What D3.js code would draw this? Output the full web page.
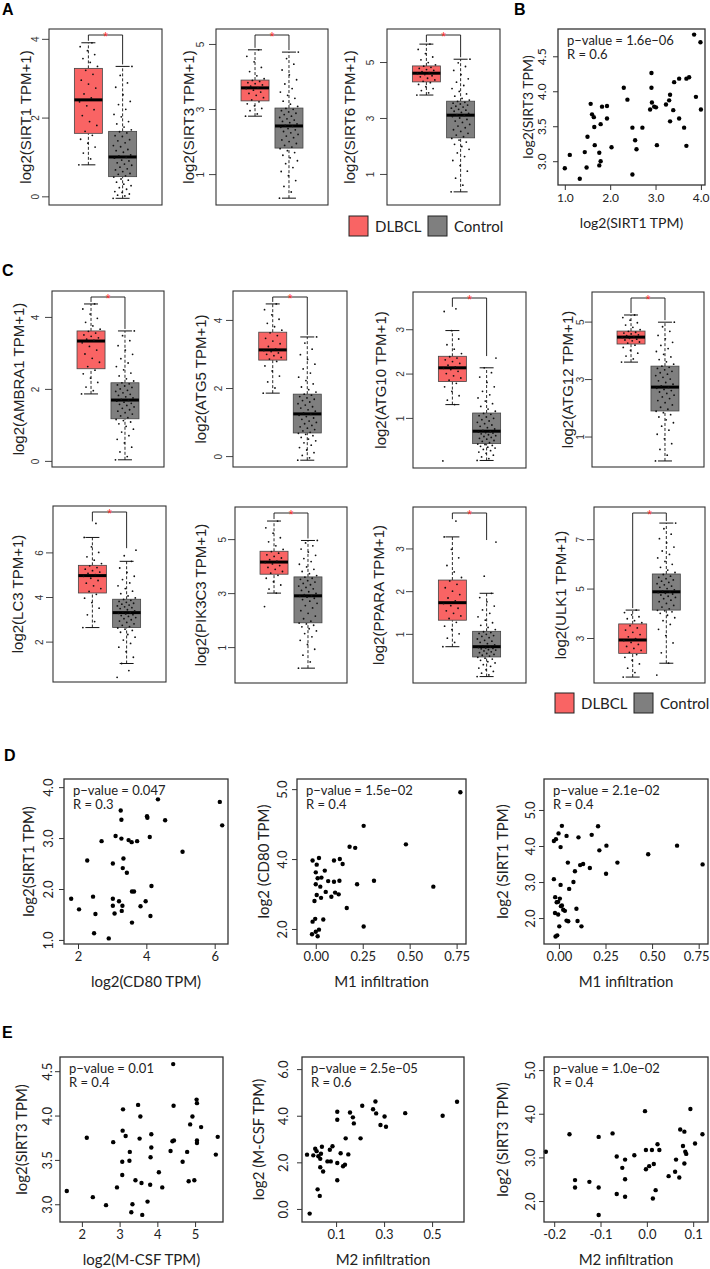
<!DOCTYPE html>
<html>
<head>
<meta charset="utf-8">
<script src="https://cdn.jsdelivr.net/npm/d3@7"></script>
<style>
  body { margin: 0; background: #fff; }
  text { fill: #222; }
</style>
</head>
<body>
<svg id="fig" width="710" height="1269"></svg>
<script>
// ---------- box plots: DLBCL (tumour) vs Control, log2(TPM+1) ----------
const boxGenes = ["SIRT1", "SIRT3", "SIRT6", "AMBRA1", "ATG5", "ATG10", "ATG12", "LC3", "PIK3C3", "PPARA", "ULK1"];

// [whisker low, Q1, median, Q3, whisker high]
const tumorStats = [
  [0.80, 1.60, 2.45, 3.25, 3.90],
  [2.78, 3.25, 3.65, 3.89, 4.82],
  [3.82, 4.29, 4.60, 4.86, 5.64],
  [1.86, 2.56, 3.33, 3.61, 4.36],
  [1.85, 2.82, 3.12, 3.64, 4.47],
  [1.30, 1.82, 2.13, 2.39, 2.97],
  [3.59, 4.22, 4.46, 4.67, 5.23],
  [2.63, 4.18, 4.96, 5.42, 6.67],
  [3.00, 3.70, 4.15, 4.55, 5.67],
  [0.70, 1.32, 1.73, 2.26, 3.27],
  [1.42, 2.38, 2.92, 3.57, 4.13]
];
const normalStats = [
  [-0.05, 0.50, 1.00, 1.65, 3.30],
  [0.26, 1.80, 2.48, 3.03, 4.75],
  [0.36, 2.29, 3.10, 3.60, 5.10],
  [0.03, 1.17, 1.69, 2.17, 3.61],
  [-0.12, 0.68, 1.24, 1.82, 3.50],
  [0.04, 0.42, 0.70, 1.11, 2.13],
  [0.15, 1.89, 2.72, 3.45, 4.98],
  [1.02, 2.63, 3.30, 3.90, 5.60],
  [0.22, 1.90, 2.90, 3.60, 4.95],
  [0.00, 0.46, 0.70, 1.06, 1.95],
  [1.98, 4.13, 4.87, 5.59, 7.65]
];
const boxTicks = [[0, 2, 4], [1, 3, 5], [1, 3, 5], [0, 2, 4], [0, 2, 4], [1, 2, 3], [1, 3, 5], [2, 4, 6], [1, 3, 5], [1, 2, 3], [3, 5, 7]];
const boxYRange = [[-0.22, 4.25], [0.05, 5.46], [-0.11, 6.18], [-0.17, 4.72], [-0.32, 4.85], [-0.13, 3.84], [-0.06, 6.03], [0.19, 8.08], [-0.33, 6.19], [-0.15, 3.97], [1.18, 8.3]];

// sample values (estimated from the dots)
const tumorPts = [
  [0.8,0.95,1.1,1.25,1.35,1.45,1.55,1.65,1.8,1.9,2.05,2.2,2.3,2.4,2.5,2.6,2.75,2.85,2.95,3.1,3.2,3.3,3.4,3.5,3.6,3.7,3.8,3.9],
  [2.78,2.85,2.95,3.02,3.1,3.16,3.22,3.28,3.35,3.42,3.48,3.52,3.58,3.63,3.66,3.7,3.74,3.78,3.81,3.85,3.88,3.93,4.02,4.15,4.28,4.45,4.62,4.82],
  [3.82,3.9,3.98,4.05,4.12,4.2,4.26,4.31,4.36,4.42,4.47,4.51,4.55,4.59,4.62,4.66,4.7,4.73,4.77,4.81,4.85,4.9,4.98,5.08,5.18,5.3,5.45,5.64],
  [1.86,1.95,2.05,2.18,2.3,2.42,2.52,2.62,2.74,2.85,2.97,3.08,3.18,3.28,3.35,3.38,3.42,3.46,3.5,3.55,3.6,3.66,3.75,3.85,3.96,4.08,4.22,4.36],
  [1.85,2.0,2.18,2.35,2.5,2.65,2.78,2.85,2.9,2.95,2.99,3.03,3.07,3.1,3.15,3.22,3.3,3.38,3.46,3.54,3.62,3.7,3.8,3.9,4.02,4.15,4.3,4.47],
  [0.03,1.3,1.4,1.5,1.6,1.7,1.78,1.85,1.9,1.95,2.0,2.05,2.09,2.12,2.15,2.19,2.23,2.27,2.31,2.35,2.38,2.45,2.55,2.65,2.78,2.97,3.4,3.46],
  [3.59,3.7,3.8,3.9,4.0,4.1,4.18,4.25,4.29,4.33,4.36,4.39,4.42,4.45,4.48,4.51,4.54,4.57,4.6,4.63,4.66,4.72,4.8,4.88,4.96,5.05,5.14,5.23],
  [2.63,2.9,3.2,3.5,3.75,3.95,4.12,4.25,4.38,4.5,4.62,4.74,4.84,4.93,5.0,5.06,5.12,5.18,5.25,5.32,5.4,5.5,5.65,5.8,6.0,6.25,6.67,7.3],
  [2.5,3.0,3.15,3.3,3.42,3.55,3.66,3.74,3.8,3.88,3.95,4.02,4.08,4.13,4.18,4.24,4.3,4.36,4.42,4.48,4.54,4.62,4.75,4.9,5.05,5.22,5.42,5.67],
  [0.7,0.8,0.9,1.0,1.1,1.18,1.27,1.36,1.42,1.48,1.54,1.6,1.66,1.71,1.77,1.84,1.92,2.0,2.08,2.16,2.24,2.32,2.45,2.6,2.78,2.98,3.27,3.64],
  [1.42,1.6,1.78,1.95,2.1,2.22,2.33,2.42,2.5,2.58,2.66,2.74,2.82,2.9,2.97,3.05,3.14,3.23,3.32,3.41,3.5,3.62,3.7,3.78,3.86,3.94,4.03,4.13]
];
const normalPts = [
  [-0.05,0.01,0.03,0.06,0.1,0.12,0.18,0.22,0.27,0.31,0.36,0.41,0.44,0.49,0.52,0.56,0.58,0.63,0.67,0.7,0.74,0.79,0.82,0.85,0.9,0.92,0.97,0.99,1.03,1.05,1.12,1.16,1.19,1.26,1.29,1.36,1.41,1.44,1.52,1.54,1.61,1.64,1.69,1.76,1.84,1.9,2.02,2.08,2.21,2.33,2.41,2.58,2.77,2.88,3.07,3.3],
  [0.26,0.45,0.62,0.8,0.95,1.08,1.2,1.32,1.41,1.5,1.58,1.66,1.72,1.78,1.83,1.88,1.94,2.0,2.05,2.12,2.17,2.22,2.27,2.31,2.36,2.4,2.44,2.47,2.5,2.54,2.58,2.62,2.66,2.7,2.74,2.78,2.83,2.87,2.91,2.95,2.99,3.02,3.08,3.15,3.24,3.33,3.42,3.52,3.63,3.77,3.9,4.05,4.2,4.38,4.55,4.75],
  [0.36,0.6,0.85,1.1,1.3,1.48,1.62,1.75,1.88,1.98,2.06,2.14,2.21,2.27,2.33,2.39,2.45,2.52,2.58,2.65,2.71,2.77,2.84,2.89,2.95,3.0,3.05,3.09,3.12,3.16,3.2,3.24,3.28,3.31,3.35,3.39,3.42,3.46,3.5,3.53,3.56,3.59,3.64,3.7,3.78,3.86,3.95,4.05,4.16,4.28,4.4,4.55,4.7,4.84,4.97,5.1],
  [0.03,0.12,0.25,0.38,0.5,0.6,0.7,0.8,0.88,0.96,1.03,1.08,1.12,1.15,1.2,1.25,1.3,1.34,1.38,1.42,1.46,1.5,1.54,1.57,1.6,1.63,1.66,1.68,1.71,1.75,1.78,1.82,1.85,1.89,1.93,1.96,2.0,2.04,2.08,2.11,2.14,2.17,2.22,2.28,2.36,2.44,2.53,2.62,2.72,2.84,2.96,3.08,3.2,3.34,3.48,3.61],
  [-0.12,-0.05,0.02,0.1,0.18,0.25,0.32,0.39,0.45,0.5,0.55,0.6,0.64,0.67,0.7,0.74,0.78,0.82,0.86,0.9,0.95,0.99,1.03,1.08,1.12,1.16,1.2,1.23,1.27,1.32,1.36,1.41,1.45,1.5,1.54,1.59,1.63,1.67,1.71,1.75,1.79,1.82,1.88,1.95,2.03,2.12,2.22,2.32,2.44,2.56,2.7,2.84,2.98,3.14,3.32,3.5],
  [0.04,0.08,0.12,0.16,0.2,0.23,0.26,0.29,0.32,0.34,0.36,0.38,0.4,0.41,0.44,0.47,0.49,0.52,0.54,0.56,0.58,0.6,0.62,0.64,0.66,0.67,0.68,0.69,0.72,0.75,0.78,0.81,0.84,0.87,0.9,0.93,0.96,0.99,1.02,1.05,1.08,1.1,1.15,1.2,1.26,1.32,1.38,1.45,1.52,1.6,1.7,1.8,1.92,2.02,2.13,2.35],
  [0.15,0.35,0.55,0.75,0.92,1.08,1.22,1.36,1.48,1.58,1.68,1.76,1.83,1.88,1.95,2.02,2.1,2.18,2.25,2.32,2.38,2.44,2.5,2.55,2.6,2.64,2.68,2.71,2.76,2.82,2.88,2.94,3.0,3.06,3.12,3.17,3.22,3.27,3.32,3.37,3.41,3.45,3.52,3.6,3.68,3.77,3.86,3.96,4.06,4.17,4.28,4.4,4.52,4.66,4.82,4.98],
  [0.4,0.7,1.02,1.3,1.55,1.75,1.92,2.07,2.2,2.32,2.42,2.5,2.56,2.61,2.67,2.73,2.8,2.86,2.92,2.98,3.03,3.08,3.13,3.17,3.21,3.24,3.27,3.29,3.33,3.38,3.43,3.48,3.52,3.56,3.6,3.64,3.68,3.72,3.76,3.8,3.85,3.89,3.96,4.05,4.15,4.26,4.38,4.5,4.63,4.78,4.93,5.1,5.3,5.6,5.85,6.1],
  [0.22,0.45,0.7,0.92,1.1,1.25,1.38,1.5,1.6,1.68,1.75,1.81,1.86,1.89,1.96,2.05,2.15,2.25,2.35,2.45,2.54,2.62,2.7,2.76,2.81,2.85,2.88,2.9,2.94,2.99,3.05,3.1,3.16,3.21,3.26,3.31,3.36,3.41,3.46,3.51,3.55,3.59,3.65,3.72,3.8,3.88,3.97,4.07,4.17,4.28,4.4,4.52,4.63,4.75,4.86,4.95],
  [0.0,0.04,0.08,0.12,0.16,0.2,0.24,0.28,0.32,0.35,0.38,0.41,0.43,0.45,0.48,0.5,0.52,0.54,0.56,0.58,0.6,0.62,0.63,0.65,0.66,0.67,0.68,0.69,0.72,0.74,0.77,0.8,0.83,0.85,0.88,0.91,0.94,0.96,0.99,1.01,1.03,1.05,1.1,1.15,1.2,1.26,1.32,1.4,1.48,1.56,1.65,1.75,1.85,1.95,2.35,3.15],
  [1.5,1.98,2.4,2.8,3.1,3.35,3.55,3.7,3.82,3.92,4.0,4.06,4.1,4.12,4.18,4.25,4.32,4.4,4.47,4.53,4.59,4.64,4.69,4.74,4.78,4.81,4.84,4.86,4.9,4.95,5.0,5.05,5.1,5.15,5.2,5.25,5.3,5.35,5.4,5.45,5.5,5.57,5.65,5.75,5.86,5.98,6.1,6.24,6.38,6.52,6.68,6.85,7.02,7.2,7.42,7.65]
];

// ---------- scatter plots: [x, y] ----------
const ptsB = [[1.00,2.90],[1.11,3.09],[1.33,2.75],[1.44,3.13],[1.48,2.91],[1.50,3.35],[1.57,3.82],[1.60,3.67],[1.64,3.63],[1.65,3.49],[1.66,3.23],[1.76,3.12],[1.76,2.94],[1.79,3.00],[1.79,3.53],[1.82,3.78],[1.93,3.79],[1.93,3.61],[2.03,3.20],[2.30,4.05],[2.38,3.88],[2.49,3.48],[2.49,2.81],[2.55,3.30],[2.58,3.17],[2.71,3.48],[2.91,4.26],[2.91,4.05],[2.92,3.84],[2.88,3.74],[2.97,3.78],[3.01,3.77],[3.03,3.23],[3.23,3.81],[3.30,3.87],[3.32,3.95],[3.32,3.57],[3.39,3.73],[3.41,4.13],[3.52,4.18],[3.52,3.61],[3.63,3.48],[3.68,4.18],[3.74,4.20],[3.68,3.22],[3.85,4.81],[3.89,3.92],[3.99,4.70],[4.00,3.74]];
const ptsD1 = [[1.80,1.81],[2.03,1.60],[2.27,2.56],[2.44,1.85],[2.47,1.13],[2.51,1.51],[2.69,2.94],[2.90,1.03],[3.02,2.50],[3.02,1.81],[3.02,1.67],[3.07,1.52],[3.10,3.04],[3.20,1.76],[3.25,3.54],[3.27,3.36],[3.27,2.99],[3.28,1.57],[3.30,1.67],[3.31,2.41],[3.33,2.60],[3.43,2.32],[3.48,2.96],[3.57,2.92],[3.58,1.34],[3.58,1.95],[3.64,1.95],[3.73,2.94],[3.83,1.66],[3.98,1.76],[4.02,3.43],[4.03,3.40],[4.10,3.02],[4.12,1.47],[4.15,2.06],[4.34,3.76],[4.55,3.35],[5.06,2.73],[6.15,3.71],[6.22,3.25]];
const ptsD2 = [[0.255,4.95],[0.18,4.35],[0.21,4.32],[0.48,4.42],[-0.017,3.96],[0.017,4.03],[0.005,3.84],[0.048,3.67],[0.0,3.62],[0.01,3.45],[0.03,3.47],[0.066,3.37],[0.097,3.96],[0.128,4.0],[0.143,3.86],[0.0,3.28],[0.024,3.21],[0.053,3.06],[0.005,2.97],[0.028,2.89],[-0.007,2.80],[0.083,2.92],[0.097,3.35],[0.103,3.04],[0.126,3.38],[0.122,2.99],[0.22,3.28],[0.31,3.38],[0.626,3.21],[0.165,2.60],[-0.017,2.21],[-0.003,2.29],[0.04,2.27],[-0.02,1.85],[0.0,1.92],[0.017,1.98],[0.01,1.79],[0.255,2.07],[0.77,5.91]];
const ptsD3 = [[-0.027,4.14],[-0.016,4.19],[-0.002,4.35],[0.016,4.56],[0.009,3.97],[0.041,4.28],[0.048,3.54],[-0.027,3.08],[0.009,2.92],[0.055,2.81],[0.078,3.00],[0.086,3.30],[0.105,4.24],[0.114,3.47],[0.130,3.50],[0.166,3.39],[0.176,4.31],[0.210,4.55],[0.217,3.88],[0.255,4.01],[0.253,3.23],[0.314,3.54],[0.100,1.92],[0.094,2.26],[0.121,1.77],[0.479,3.77],[0.634,4.01],[0.771,3.49],[-0.020,2.58],[-0.012,2.44],[-0.004,2.45],[0.005,2.54],[0.016,2.35],[0.023,2.23],[0.032,2.20],[0.041,1.93],[0.002,1.77],[-0.009,1.52],[-0.018,1.49],[-0.021,2.14],[-0.004,2.10],[0.011,2.33],[0.050,1.91]];
const ptsE1 = [[1.60,3.15],[2.13,3.75],[2.29,3.08],[2.64,2.99],[2.83,3.70],[2.93,3.19],[3.09,4.07],[3.08,3.83],[3.16,3.77],[3.07,3.48],[3.07,3.33],[3.26,3.49],[3.27,3.59],[3.34,3.00],[3.31,2.91],[3.42,3.27],[3.49,4.12],[3.53,3.74],[3.55,3.99],[3.58,3.24],[3.60,2.88],[3.74,3.03],[3.81,3.22],[3.82,3.53],[3.84,3.64],[3.84,3.79],[4.04,3.36],[4.13,3.19],[4.35,3.60],[4.40,3.71],[4.42,4.58],[4.43,4.11],[4.44,3.72],[4.67,3.48],[4.79,3.59],[4.83,3.26],[4.87,3.90],[4.93,3.99],[4.98,3.27],[5.04,4.18],[5.05,4.14],[5.05,3.72],[5.05,3.69],[5.16,3.87],[5.55,3.56],[5.60,3.76]];
const ptsE2 = [[-0.021,2.33],[0.005,2.30],[0.013,2.58],[0.019,2.48],[0.026,2.26],[0.037,2.37],[0.041,2.67],[0.034,2.15],[0.034,1.79],[0.046,1.61],[0.023,0.84],[0.032,0.56],[-0.01,-0.2],[0.064,2.04],[0.078,2.04],[0.074,2.54],[0.085,2.69],[0.105,4.17],[0.105,3.83],[0.105,1.97],[0.105,1.23],[0.119,2.39],[0.129,1.83],[0.137,1.90],[0.140,3.03],[0.151,2.34],[0.158,4.14],[0.170,3.93],[0.174,3.67],[0.202,3.03],[0.209,4.43],[0.254,4.28],[0.264,4.61],[0.267,4.10],[0.285,3.60],[0.302,3.97],[0.308,3.53],[0.388,4.11],[0.544,4.00],[0.604,4.60]];
const ptsE3 = [[-0.218,3.13],[-0.167,3.53],[-0.155,2.48],[-0.155,2.31],[-0.124,2.44],[-0.104,3.47],[-0.104,2.31],[-0.104,1.68],[-0.074,3.55],[-0.065,3.02],[-0.065,2.16],[-0.053,2.76],[-0.047,2.95],[-0.047,2.50],[-0.047,2.10],[-0.027,3.05],[-0.004,4.06],[-0.002,3.17],[-0.002,2.73],[0.005,2.80],[0.011,3.17],[0.015,2.85],[0.013,2.06],[0.019,2.25],[0.023,3.30],[0.027,3.17],[0.047,2.57],[0.061,2.67],[0.063,2.95],[0.070,2.54],[0.072,3.64],[0.078,3.26],[0.081,3.59],[0.081,2.86],[0.083,3.13],[0.085,3.08],[0.094,4.11],[0.104,3.32],[0.120,3.53]];

const scatterPts = [ptsB, ptsD1, ptsD2, ptsD3, ptsE1, ptsE2, ptsE3];
const scatterXDomain = [[0.85, 4.09], [1.59, 6.39], [-0.10, 0.80], [-0.08, 0.80], [1.42, 5.74], [-0.042, 0.633], [-0.222, 0.132]];
const scatterYDomain = [[2.66, 4.89], [0.92, 4.16], [1.57, 6.29], [1.28, 5.86], [2.80, 4.66], [-0.56, 6.52], [1.52, 5.30]];
const scatterXTicks = [[1, 2, 3, 4], [2, 4, 6], [0, 0.25, 0.5, 0.75], [0, 0.25, 0.5, 0.75], [2, 3, 4, 5], [0.1, 0.3, 0.5], [-0.2, -0.1, 0, 0.1]];
const scatterXTickLabels = [["1.0", "2.0", "3.0", "4.0"], ["2", "4", "6"], ["0.00", "0.25", "0.50", "0.75"], ["0.00", "0.25", "0.50", "0.75"], ["2", "3", "4", "5"], ["0.1", "0.3", "0.5"], ["-0.2", "-0.1", "0.0", "0.1"]];
const scatterYTicks = [[3, 3.5, 4, 4.5], [1, 2, 3, 4], [2, 4, 6], [2, 3, 4, 5], [3, 3.5, 4, 4.5], [0, 2, 4, 6], [2, 3, 4, 5]];
const scatterYTickLabels = [["3.0", "3.5", "4.0", "4.5"], ["1.0", "2.0", "3.0", "4.0"], ["2.0", "4.0", "5.0"], ["2.0", "3.0", "4.0", "5.0"], ["3.0", "3.5", "4.0", "4.5"], ["0.0", "2.0", "4.0", "6.0"], ["2.0", "3.0", "4.0", "5.0"]];
const scatterXLabels = ["log2(SIRT1 TPM)", "log2(CD80 TPM)", "M1 infiltration", "M1 infiltration", "log2(M-CSF TPM)", "M2 infiltration", "M2 infiltration"];
const scatterYLabels = ["log2(SIRT3 TPM)", "log2(SIRT1 TPM)", "log2 (CD80 TPM)", "log2 (SIRT1 TPM)", "log2(SIRT3 TPM)", "log2 (M-CSF TPM)", "log2 (SIRT3 TPM)"];
const scatterP = ["1.6e\u221206", "0.047", "1.5e\u221202", "2.1e\u221202", "0.01", "2.5e\u221205", "1.0e\u221202"];
const scatterR = ["0.6", "0.3", "0.4", "0.4", "0.4", "0.6", "0.4"];

const legendKeys = ["DLBCL", "Control"];

// ---------- layout ----------
const RED = "#f96464", GREY = "#7f7f7f";
const ARIAL = "'Liberation Sans', Arial, sans-serif";
const CAL = "Lato, 'Open Sans', sans-serif";

const boxFrames = [
  {x: 49, y: 29, w: 113, h: 176, lab: -24, tk: -14},
  {x: 216, y: 29, w: 112, h: 176, lab: -28, tk: -16},
  {x: 387, y: 29, w: 113, h: 176, lab: -38, tk: -17},
  {x: 52, y: 291, w: 112, h: 176, lab: -34, tk: -17},
  {x: 233, y: 291, w: 114, h: 176, lab: -33, tk: -15},
  {x: 413, y: 292, w: 113, h: 176, lab: -33, tk: -13},
  {x: 592, y: 292, w: 112, h: 175, lab: -25, tk: -12},
  {x: 53, y: 506, w: 113, h: 176, lab: -36, tk: -14},
  {x: 235, y: 507, w: 112, h: 176, lab: -35, tk: -13},
  {x: 413, y: 507, w: 113, h: 176, lab: -35, tk: -13},
  {x: 594, y: 507, w: 111, h: 176, lab: -34, tk: -14}
];

const scatterFrames = [
  {x: 558, y: 29, w: 147, h: 156, lab: -31, tk: -17, fs: 14, tfs: 12},
  {x: 64, y: 779, w: 164, h: 165, lab: -36, tk: -16, fs: 15, tfs: 13},
  {x: 297, y: 779, w: 169, h: 165, lab: -34, tk: -15, fs: 15, tfs: 13},
  {x: 544, y: 779, w: 164, h: 165, lab: -42, tk: -14, fs: 15, tfs: 13},
  {x: 60, y: 1057, w: 163, h: 165, lab: -39, tk: -13, fs: 15, tfs: 13},
  {x: 302, y: 1057, w: 162, h: 165, lab: -44, tk: -19, fs: 15, tfs: 13},
  {x: 544, y: 1057, w: 164, h: 165, lab: -42, tk: -14, fs: 15, tfs: 13}
];

const svg = d3.select("#fig");

// panel letters
[["A", 2, 15], ["B", 514, 15], ["C", 2, 276], ["D", 4, 761], ["E", 2, 1038]].forEach(function (p) {
  svg.append("text").attr("x", p[1]).attr("y", p[2]).text(p[0])
    .style("font-family", ARIAL).style("font-weight", "bold").style("font-size", "16px").style("fill", "#000");
});

//draw one GEPIA style box plot
function drawBox(i) {
  var f = boxFrames[i];
  var g = svg.append("g").attr("transform", "translate(" + f.x + "," + f.y + ")");
  var x = d3.scaleLinear().domain([-0.15, 3.15]).range([0, f.w]);
  var y = d3.scaleLinear().domain(boxYRange[i]).range([f.h, 0]);

  var groups = [
    {pos: 1, s: tumorStats[i], pts: tumorPts[i], fill: RED},
    {pos: 2, s: normalStats[i], pts: normalPts[i], fill: GREY}
  ];

  groups.forEach(function (d) {
    var cx = x(d.pos), hw = 14;
    g.append("line").attr("x1", cx).attr("x2", cx).attr("y1", y(d.s[0])).attr("y2", y(d.s[1]))
      .attr("stroke", "#111").attr("stroke-width", 0.9).attr("stroke-dasharray", "3,2");
    g.append("line").attr("x1", cx).attr("x2", cx).attr("y1", y(d.s[3])).attr("y2", y(d.s[4]))
      .attr("stroke", "#111").attr("stroke-width", 0.9).attr("stroke-dasharray", "3,2");
    [d.s[0], d.s[4]].forEach(function (v) {
      g.append("line").attr("x1", cx - 7).attr("x2", cx + 7).attr("y1", y(v)).attr("y2", y(v))
        .attr("stroke", "#111").attr("stroke-width", 1);
    });
    g.append("rect").attr("x", cx - hw).attr("y", y(d.s[3]))
      .attr("width", hw * 2).attr("height", y(d.s[1]) - y(d.s[3]))
      .attr("fill", d.fill).attr("stroke", "#444").attr("stroke-width", 0.8);
    g.append("line").attr("x1", cx - hw).attr("x2", cx + hw).attr("y1", y(d.s[2])).attr("y2", y(d.s[2]))
      .attr("stroke", "#000").attr("stroke-width", 3);
    // jittered samples
    g.append("g").selectAll("circle").data(d.pts).enter().append("circle")
      .attr("cx", function (v, k) { return cx + (((k * 0.6180339887) % 1) - 0.5) * 19; })
      .attr("cy", function (v) { return y(v); })
      .attr("r", 0.9).attr("fill", "#111");
  });

  // significance bracket
  var by = 6, x1 = x(1), x2 = x(2);
  g.append("path")
    .attr("d", "M" + x1 + "," + (y(d3.max(tumorPts[i])) - 2) + "V" + by + "H" + x2 + "V" + (y(d3.max(normalPts[i])) - 2))
    .attr("fill", "none").attr("stroke", "#111").attr("stroke-width", 0.9);
  g.append("text").attr("x", (x1 + x2) / 2).attr("y", by + 6).attr("text-anchor", "middle")
    .text("*").style("font-family", ARIAL).style("font-size", "12px").style("fill", "#ff2a2a");

  // axis
  var ax = g.append("g").call(d3.axisLeft(y).tickValues(boxTicks[i]).tickSize(7).tickFormat(d3.format("d")));
  ax.select(".domain").remove();
  ax.selectAll("line").attr("stroke", "#444");
  ax.selectAll("text").attr("x", 0).attr("dy", null)
    .attr("transform", "translate(" + f.tk + ",0) rotate(-90)")
    .attr("text-anchor", "middle").attr("dominant-baseline", "central")
    .style("font-family", ARIAL).style("font-size", "10px").style("fill", "#333");

  g.append("rect").attr("width", f.w).attr("height", f.h)
    .attr("fill", "none").attr("stroke", "#333").attr("stroke-width", 1.1);

  g.append("text").attr("transform", "translate(" + f.lab + "," + (f.h / 2) + ") rotate(-90)")
    .attr("text-anchor", "middle").attr("dominant-baseline", "central")
    .text("log2(" + boxGenes[i] + " TPM+1)")
    .style("font-family", ARIAL).style("font-size", "15px").style("fill", "#222");
}

function drawScatter(i) {
  var f = scatterFrames[i];
  var g = svg.append("g").attr("transform", "translate(" + f.x + "," + f.y + ")");
  var x = d3.scaleLinear().domain(scatterXDomain[i]).range([0, f.w]);
  var y = d3.scaleLinear().domain(scatterYDomain[i]).range([f.h, 0]);

  var xl = scatterXTickLabels[i], yl = scatterYTickLabels[i];
  var xa = g.append("g").attr("transform", "translate(0," + f.h + ")")
    .call(d3.axisBottom(x).tickValues(scatterXTicks[i]).tickSize(5).tickPadding(3)
      .tickFormat(function (d, k) { return xl[k]; }));
  xa.select(".domain").remove();
  xa.selectAll("line").attr("stroke", "#333");
  xa.selectAll("text").style("font-family", CAL).style("font-size", f.tfs + "px").style("fill", "#222")
    .each(function (d) {
      // keep the last label inside the page
      var right = f.x + x(d) + this.getComputedTextLength() / 2;
      if (right > 709) d3.select(this).attr("dx", (709 - right) + "px");
    });

  var ya = g.append("g")
    .call(d3.axisLeft(y).tickValues(scatterYTicks[i]).tickSize(5)
      .tickFormat(function (d, k) { return yl[k]; }));
  ya.select(".domain").remove();
  ya.selectAll("line").attr("stroke", "#333");
  ya.selectAll("text").attr("x", 0).attr("dy", null)
    .attr("transform", "translate(" + f.tk + ",0) rotate(-90)")
    .attr("text-anchor", "middle").attr("dominant-baseline", "central")
    .style("font-family", CAL).style("font-size", f.tfs + "px").style("fill", "#222");

  g.append("g").selectAll("circle").data(scatterPts[i]).enter().append("circle")
    .attr("cx", function (d) { return x(d[0]); })
    .attr("cy", function (d) { return y(d[1]); })
    .attr("r", 2.2).attr("fill", "#000");

  g.append("rect").attr("width", f.w).attr("height", f.h)
    .attr("fill", "none").attr("stroke", "#333").attr("stroke-width", 1.3);

  g.append("text").attr("x", 9).attr("y", 16).text("p\u2212value = " + scatterP[i])
    .style("font-family", CAL).style("font-size", "13px").style("fill", "#222");
  g.append("text").attr("x", 9).attr("y", 30).text("R = " + scatterR[i])
    .style("font-family", CAL).style("font-size", "13px").style("fill", "#222");

  g.append("text").attr("x", f.w / 2).attr("y", f.h + 37).attr("text-anchor", "middle")
    .attr("dominant-baseline", "central").text(scatterXLabels[i])
    .style("font-family", CAL).style("font-size", f.fs + "px").style("fill", "#222");
  g.append("text").attr("transform", "translate(" + f.lab + "," + (f.h / 2) + ") rotate(-90)")
    .attr("text-anchor", "middle").attr("dominant-baseline", "central")
    .text(scatterYLabels[i])
    .style("font-family", CAL).style("font-size", f.fs + "px").style("fill", "#222");
}

function drawLegend(x0, y0, gap) {
  var fills = [RED, GREY];
  legendKeys.forEach(function (k, j) {
    var lx = x0 + j * gap;
    svg.append("rect").attr("x", lx).attr("y", y0).attr("width", 19).attr("height", 20)
      .attr("fill", fills[j]).attr("stroke", "#222").attr("stroke-width", 1);
    svg.append("text").attr("x", lx + 26).attr("y", y0 + 10).attr("dominant-baseline", "central")
      .text(k).style("font-family", CAL).style("font-size", "15px").style("fill", "#222");
  });
}

boxGenes.forEach(function (gname, i) { drawBox(i); });
scatterPts.forEach(function (p, i) { drawScatter(i); });
drawLegend(349, 216, 79);
drawLegend(555, 693, 79);
</script>
</body>
</html>
